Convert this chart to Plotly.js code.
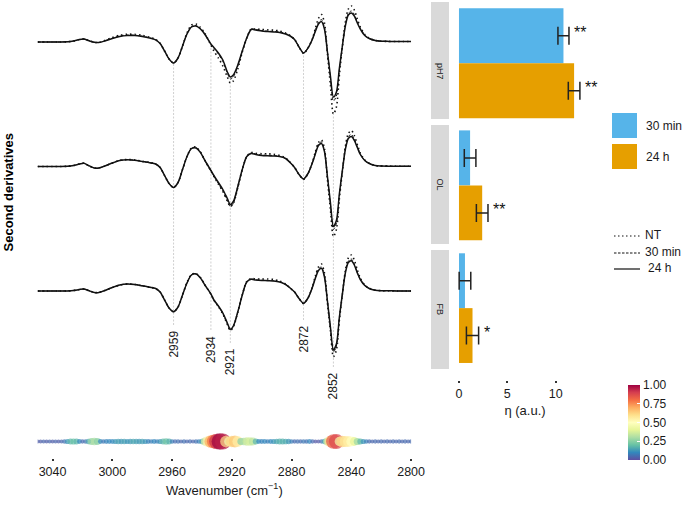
<!DOCTYPE html>
<html><head><meta charset="utf-8">
<script src="https://cdn.plot.ly/plotly-3.0.1.min.js"></script>
<style>html,body{margin:0;padding:0;background:#fff}#chart{width:685px;height:505px}</style>
</head><body><div id="chart"></div>
<script>
// ---------- DATA ----------
const wn = [3050,3045,3040,3035,3030, 3026,3022,3019,3016,3012, 3009,3005,3000,2995,2990, 2985,2980,2975,2971,2968, 2965,2962,2959,2956,2953, 2950,2947,2944,2941,2938, 2934,2932,2929,2926,2923, 2921,2919,2916,2913,2910, 2907,2904,2900,2896,2892, 2888,2884,2881,2878,2875, 2872,2869,2866,2864,2862, 2860,2858,2856,2854,2852, 2850,2848,2846,2844,2842, 2840,2838,2836,2834,2831, 2828,2824,2820,2815,2810, 2805,2800];

const pH7_24 = [0,0,0,0,0.02, 0.1,0.25,0.3,0.15,-0.03, -0.05,0.1,0.35,0.55,0.65, 0.65,0.55,0.4,0.22,-0.15, -0.9,-1.7,-2.1,-1.6,-0.4, 0.8,1.5,1.6,1.3,0.75, -0.2,-0.55,-1.1,-1.8,-3.0, -3.5,-3.3,-2.3,-0.9,0.4, 1.25,1.2,1.1,1.05,1.0, 0.95,0.8,0.6,0.25,-0.5, -1.1,-0.6,0.3,1.1,1.8, 2.05,1.3,-1.0,-3.4,-5.5, -5.0,-2.6,-0.4,1.6,2.7, 2.9,2.6,1.9,1.3,0.65, 0.35,0.15,0.08,0.06,0.05, 0.05,0.05];
const pH7_30 = [0,0,0,0,0.02, 0.1,0.25,0.3,0.15,-0.03, -0.05,0.12,0.38,0.6,0.7, 0.68,0.58,0.42,0.22,-0.15, -0.9,-1.7,-2.1,-1.6,-0.4, 0.85,1.55,1.65,1.35,0.8, -0.2,-0.6,-1.2,-1.95,-3.1, -3.7,-3.5,-2.4,-0.95,0.4, 1.3,1.25,1.15,1.1,1.05, 1.0,0.85,0.62,0.25,-0.5, -1.1,-0.6,0.3,1.2,1.95, 2.25,1.45,-1.0,-3.6,-5.9, -5.4,-2.8,-0.4,1.7,2.85, 3.1,2.75,2.0,1.35,0.7, 0.35,0.15,0.08,0.06,0.05, 0.05,0.05];
const pH7_NT = [0,0,0,0,0.02, 0.1,0.25,0.3,0.15,-0.03, -0.05,0.15,0.45,0.68,0.78, 0.76,0.66,0.48,0.25,-0.12, -0.9,-1.7,-2.1,-1.6,-0.4, 0.9,1.7,1.8,1.45,0.85, -0.3,-0.9,-1.6,-2.4,-3.5, -4.1,-3.9,-2.7,-1.0,0.4, 1.3,1.28,1.25,1.22,1.18, 1.1,0.9,0.65,0.25,-0.5, -1.15,-0.6,0.35,1.4,2.35, 2.75,1.9,-1.2,-4.3,-7.2, -6.5,-3.3,-0.5,2.0,3.3, 3.6,3.2,2.3,1.5,0.75, 0.38,0.16,0.08,0.06,0.05, 0.05,0.05];

const OL_24 = [0,0,0,0,0.02, 0.1,0.25,0.33,0.1,-0.15, -0.15,0.05,0.35,0.6,0.67, 0.62,0.5,0.38,0.25,-0.1, -0.9,-1.7,-2.1,-1.6,-0.3, 1.0,1.8,1.85,1.4,0.6, -0.4,-0.9,-1.6,-2.3,-3.2, -3.8,-3.5,-2.0,-0.3,1.0, 1.3,1.2,1.1,1.07,1.05, 1.0,0.8,0.4,-0.1,-0.8, -1.25,-0.7,0.4,1.3,2.1, 2.3,1.5,-1.0,-3.6,-6.0, -5.4,-2.7,-0.4,1.7,2.8, 3.0,2.6,1.9,1.2,0.6, 0.3,0.1,0.05,0.03,0.02, 0.02,0.02];
const OL_30 = [0,0,0,0,0.02, 0.1,0.25,0.33,0.1,-0.15, -0.15,0.05,0.35,0.6,0.68, 0.63,0.5,0.38,0.25,-0.1, -0.9,-1.7,-2.1,-1.6,-0.3, 1.0,1.8,1.9,1.45,0.6, -0.4,-0.95,-1.7,-2.45,-3.4, -4.0,-3.7,-2.1,-0.3,1.0, 1.35,1.25,1.15,1.12,1.1, 1.02,0.8,0.4,-0.1,-0.8, -1.25,-0.7,0.4,1.4,2.25, 2.45,1.6,-1.1,-3.8,-6.3, -5.7,-2.9,-0.4,1.8,3.0, 3.2,2.75,2.0,1.25,0.62, 0.3,0.1,0.05,0.03,0.02, 0.02,0.02];
const OL_NT = [0,0,0,0,0.02, 0.1,0.25,0.33,0.1,-0.15, -0.15,0.05,0.35,0.62,0.7, 0.65,0.52,0.4,0.25,-0.1, -0.9,-1.7,-2.1,-1.6,-0.3, 1.0,1.85,1.95,1.45,0.6, -0.45,-1.0,-1.75,-2.5,-3.45, -4.0,-3.7,-2.1,-0.3,1.0, 1.4,1.32,1.28,1.27,1.22, 1.1,0.85,0.42,-0.1,-0.8, -1.3,-0.7,0.45,1.5,2.4, 2.65,1.8,-1.3,-4.3,-7.0, -6.3,-3.2,-0.5,2.0,3.3, 3.6,3.1,2.2,1.35,0.65, 0.32,0.1,0.05,0.03,0.02, 0.02,0.02];

const FB_24 = [0,0,0,0,0.01, 0.05,0.15,0.2,0.05,-0.15, -0.15,0.05,0.35,0.6,0.7, 0.65,0.52,0.38,0.25,-0.1, -0.9,-1.7,-2.07,-1.6,-0.4, 0.8,1.6,1.7,1.3,0.6, -0.3,-0.9,-1.5,-2.2,-3.2, -3.83,-3.5,-2.1,-0.4,0.9, 1.17,1.1,1.05,1.03,1.0, 0.9,0.65,0.3,-0.1,-0.75, -1.23,-0.7,0.4,1.3,2.05, 2.27,1.4,-1.0,-3.6,-5.9, -5.3,-2.6,-0.3,1.8,2.85, 3.03,2.6,1.8,1.15,0.55, 0.25,0.08,0.03,0.02,0.01, 0,0];
const FB_30 = [0,0,0,0,0.01, 0.05,0.15,0.2,0.05,-0.15, -0.15,0.05,0.35,0.6,0.7, 0.65,0.52,0.38,0.25,-0.1, -0.9,-1.7,-2.07,-1.6,-0.4, 0.82,1.62,1.72,1.32,0.6, -0.3,-0.9,-1.5,-2.25,-3.3, -3.9,-3.55,-2.1,-0.4,0.9, 1.2,1.12,1.08,1.06,1.02, 0.92,0.65,0.3,-0.1,-0.75, -1.25,-0.7,0.4,1.4,2.2, 2.4,1.5,-1.05,-3.7,-6.1, -5.5,-2.7,-0.3,1.9,3.0, 3.2,2.7,1.85,1.15,0.55, 0.25,0.08,0.03,0.02,0.01, 0,0];
const FB_NT = [0,0,0,0,0.01, 0.05,0.15,0.2,0.05,-0.15, -0.15,0.05,0.35,0.6,0.7, 0.65,0.52,0.38,0.25,-0.1, -0.9,-1.7,-2.07,-1.6,-0.4, 0.85,1.65,1.75,1.35,0.6, -0.3,-0.9,-1.55,-2.3,-3.35, -3.95,-3.6,-2.1,-0.4,0.95, 1.25,1.2,1.2,1.2,1.15, 1.0,0.7,0.3,-0.1,-0.75, -1.25,-0.7,0.45,1.55,2.4, 2.7,1.8,-1.2,-4.0,-6.57, -5.9,-2.9,-0.35,2.05,3.3, 3.6,3.1,2.1,1.3,0.6, 0.27,0.08,0.03,0.02,0.01, 0,0];

const peaks = [2959, 2934, 2921, 2872, 2852];
const wnTicks = [3040, 3000, 2960, 2920, 2880, 2840, 2800];

// importance strip (every 2 cm-1 from 3050 down to 2800)
const stripVal = [0.03,0.03,0.04,0.03,0.04,0.03,0.04,0.03,0.04,0.06, 0.12,0.18,0.2,0.18,0.1,0.05,0.06,0.15,0.27,0.3, 0.25,0.1,0.07,0.09,0.1,0.1,0.12,0.14,0.13,0.14, 0.12,0.13,0.15,0.14,0.13,0.14,0.12,0.09,0.08,0.1, 0.08,0.12,0.18,0.21,0.17,0.08,0.05,0.06,0.04,0.06, 0.04,0.05,0.04,0.06,0.08,0.15,0.35,0.55,0.7,0.8, 0.92,1.0,0.95,0.6,0.45,0.62,0.65,0.55,0.25,0.3, 0.36,0.37,0.33,0.18,0.1,0.09,0.1,0.08,0.1,0.12, 0.15,0.17,0.17,0.16,0.13,0.08,0.05,0.06,0.05,0.07, 0.06,0.1,0.05,0.02,0.02,0.05,0.15,0.35,0.6,0.85, 0.88,0.45,0.62,0.58,0.55,0.5,0.4,0.28,0.18,0.12, 0.08,0.05,0.04,0.05,0.04,0.05,0.04,0.05,0.04,0.05, 0.04,0.05,0.04,0.05,0.04,0.05];
const stripWn = stripVal.map((_, i) => 3050 - 2 * i);

// bar chart
const treatments = ["pH7", "OL", "FB"];
const groups = ["30 min", "24 h"];
const eta30 = [10.8, 1.15, 0.62];
const err30 = [0.57, 0.6, 0.6];
const eta24 = [11.9, 2.4, 1.4];
const err24 = [0.6, 0.6, 0.63];
const sig30 = ["**", "", ""];
const sig24 = ["**", "**", "*"];
const barTicks = [0, 5, 10];
const cbTicks = [0, 0.25, 0.5, 0.75, 1];
const cbLabels = ["0.00", "0.25", "0.50", "0.75", "1.00"];

// ---------- LAYOUT HELPERS ----------
const W = 685, H = 505;
const PX = x => x / W;
const PY = y => 1 - y / H;
const FONT = "Liberation Sans, Arial, sans-serif";
const BLUE = "#56B4E9", ORANGE = "#E69F00";
const spectralR = [[0,"#5E4FA2"],[0.1,"#3288BD"],[0.2,"#66C2A5"],[0.3,"#ABDDA4"],[0.4,"#E6F598"],[0.5,"#FFFFBF"],[0.6,"#FEE08B"],[0.7,"#FDAE61"],[0.8,"#F46D43"],[0.9,"#D53E4F"],[1,"#9E0142"]];

const panelPx = [[2,119],[125,244],[250,369]];
const baselinePx = [42, 166.5, 291];
const specRanges = panelPx.map((p,i) => [-(p[1]-baselinePx[i])/10, (baselinePx[i]-p[0])/10]);
const specDomains = panelPx.map(p => [PY(p[1]), PY(p[0])]);
const barRanges = [[-0.515,1.612],[-0.566,1.598],[-0.61,1.56]];

const specSeries = [[pH7_NT, pH7_30, pH7_24],[OL_NT, OL_30, OL_24],[FB_NT, FB_30, FB_24]];
const lineStyles = [
  {color:"#111", width:1.6, dash:"1.5px,3px"},
  {color:"#111", width:1.0, dash:"3px,2px"},
  {color:"#111", width:1.5, dash:"solid"}
];

const traces = [];
specSeries.forEach((set, p) => {
  const ya = p === 0 ? "y" : "y" + (p + 1);
  set.forEach((ys, k) => {
    traces.push({type:"scatter", mode:"lines", x: wn, y: ys, xaxis:"x", yaxis: ya,
      line: Object.assign({shape:"spline", smoothing:0.8}, lineStyles[k]), hoverinfo:"skip", showlegend:false});
  });
});

traces.push({type:"scatter", mode:"markers", x: stripWn, y: stripWn.map(() => 0), xaxis:"x", yaxis:"y7",
  marker:{size: stripVal.map(v => 3.6 + 13 * v), color: stripVal, colorscale: spectralR, cmin:0, cmax:1,
    line:{width:0}, showscale:true,
    colorbar:{x: PX(628), xanchor:"left", y: PY(422.5), yanchor:"middle", len:75, lenmode:"pixels",
      thickness:12, thicknessmode:"pixels", outlinewidth:0, xpad:0, ypad:0,
      tickvals: cbTicks, ticktext: cbLabels, ticks:"inside", ticklen:3, tickcolor:"#fff", tickwidth:1,
      tickfont:{size:12, color:"#1a1a1a", family:FONT}}},
  hoverinfo:"skip", showlegend:false});

const annotations = [];
treatments.forEach((t, i) => {
  const ya = "y" + (4 + i);
  traces.push({type:"bar", orientation:"h", x:[eta30[i], eta24[i]], y: groups, xaxis:"x4", yaxis: ya,
    width: 1, marker:{color:[BLUE, ORANGE], line:{width:0}},
    error_x:{type:"data", array:[err30[i], err24[i]], color:"#222", thickness:1.5, width:9},
    hoverinfo:"skip", showlegend:false});
  [[sig30, eta30, err30, groups[0]], [sig24, eta24, err24, groups[1]]].forEach(([sig, v, e, g]) => {
    if (sig[i]) annotations.push({xref:"x4", yref: ya, x: v[i] + e[i], y: g, text: sig[i], showarrow:false,
      xanchor:"left", yanchor:"middle", xshift:3, yshift:3, font:{size:16, color:"#111", family:FONT}});
  });
});

const shapes = [];
const labelCenterPx = [344, 349, 362, 339, 386];
peaks.forEach((pk, j) => {
  const idx = wn.indexOf(pk);
  const vmin = Math.min(pH7_NT[idx], pH7_30[idx], pH7_24[idx]);
  const r = specRanges[0], d = specDomains[0];
  const yTop = d[0] + (vmin - r[0]) / (r[1] - r[0]) * (d[1] - d[0]);
  const yBot = PY(labelCenterPx[j] - 19);
  shapes.push({type:"line", xref:"x", yref:"paper", x0: pk, x1: pk, y0: yBot, y1: yTop, layer:"below",
    line:{color:"#c4c4c4", width:0.8, dash:"2px,1.5px"}});
  annotations.push({xref:"x", yref:"paper", x: pk, y: PY(labelCenterPx[j]), text: String(pk), textangle:-90,
    showarrow:false, xanchor:"center", yanchor:"middle", font:{size:12, color:"#1a1a1a", family:FONT}});
});

treatments.forEach((t, i) => {
  const p = panelPx[i];
  shapes.push({type:"rect", xref:"paper", yref:"paper", x0: PX(431), x1: PX(449), y0: PY(p[1]), y1: PY(p[0]),
    fillcolor:"#D9D9D9", line:{width:0}, layer:"below"});
  annotations.push({xref:"paper", yref:"paper", x: PX(440), y: PY((p[0]+p[1])/2), text: t, textangle:90,
    showarrow:false, font:{size:9, color:"#1a1a1a", family:FONT}});
});

annotations.push({xref:"paper", yref:"paper", x: PX(8), y: PY(192.5), text:"<b>Second derivatives</b>", textangle:-90,
  showarrow:false, xanchor:"center", yanchor:"middle", font:{size:13, color:"#000", family:FONT}});

[[BLUE, groups[0], 113], [ORANGE, groups[1], 144]].forEach(([c, lab, top]) => {
  shapes.push({type:"rect", xref:"paper", yref:"paper", x0: PX(612), x1: PX(637), y0: PY(top+25), y1: PY(top),
    fillcolor:c, line:{width:0}});
  annotations.push({xref:"paper", yref:"paper", x: PX(644), y: PY(top+13), text: lab, showarrow:false,
    xanchor:"left", yanchor:"middle", font:{size:12, color:"#1a1a1a", family:FONT}});
});
const lineLabels = ["NT", "30 min", "24 h"];
[236, 253, 269].forEach((yy, k) => {
  shapes.push({type:"line", xref:"paper", yref:"paper", x0: PX(614), x1: PX(640), y0: PY(yy), y1: PY(yy),
    line:{color:"#111", width: k === 1 ? 1 : 1.2, dash: k === 0 ? "1.5px,2.5px" : (k === 1 ? "2.5px,1.5px" : "solid")}});
  annotations.push({xref:"paper", yref:"paper", x: PX(k === 2 ? 646 : 643), y: PY(yy - 1), text: lineLabels[k], showarrow:false,
    xanchor:"left", yanchor:"middle", font:{size:12, color:"#1a1a1a", family:FONT}});
});

const hiddenY = (dom, rng, anchor) => ({domain: dom, range: rng, anchor: anchor, showgrid:false, zeroline:false,
  showticklabels:false, ticks:"", showline:false, fixedrange:true});

const layout = {
  width: W, height: H, margin:{l:0, r:0, t:0, b:0}, paper_bgcolor:"#fff", plot_bgcolor:"rgba(0,0,0,0)",
  font:{family: FONT, color:"#1a1a1a"}, showlegend:false,
  xaxis:{domain:[PX(37.6), PX(411.1)], range:[3050, 2800], anchor:"y7", tickvals: wnTicks, ticks:"outside",
    ticklen:2, tickwidth:2, tickcolor:"#333", showgrid:false, zeroline:false, showline:false, automargin:false,
    tickfont:{size:12.5, color:"#1a1a1a"},
    title:{text:"Wavenumber (cm<sup>−1</sup>)", font:{size:13, color:"#1a1a1a"}, standoff:7}},
  yaxis: hiddenY(specDomains[0], specRanges[0], "x"),
  yaxis2: hiddenY(specDomains[1], specRanges[1], "x"),
  yaxis3: hiddenY(specDomains[2], specRanges[2], "x"),
  yaxis7: hiddenY([PY(458), PY(425)], [-1, 1], "x"),
  xaxis4:{domain:[PX(455), PX(595)], range:[-0.41, 14.06], anchor:"free", position: PY(380), tickvals: barTicks,
    ticks:"outside", ticklen:2, tickwidth:2, tickcolor:"#333", showgrid:false, zeroline:false, showline:false,
    automargin:false, tickfont:{size:12.5, color:"#1a1a1a"},
    title:{text:"η (a.u.)", font:{size:13, color:"#1a1a1a"}, standoff:5}},
  shapes: shapes, annotations: annotations
};
treatments.forEach((t, i) => {
  layout["yaxis" + (4 + i)] = Object.assign(hiddenY(specDomains[i], barRanges[i], "x4"),
    {type:"category", categoryorder:"array", categoryarray:[groups[1], groups[0]]});
});

Plotly.newPlot("chart", traces, layout, {staticPlot:true, displayModeBar:false});
</script></body></html>
